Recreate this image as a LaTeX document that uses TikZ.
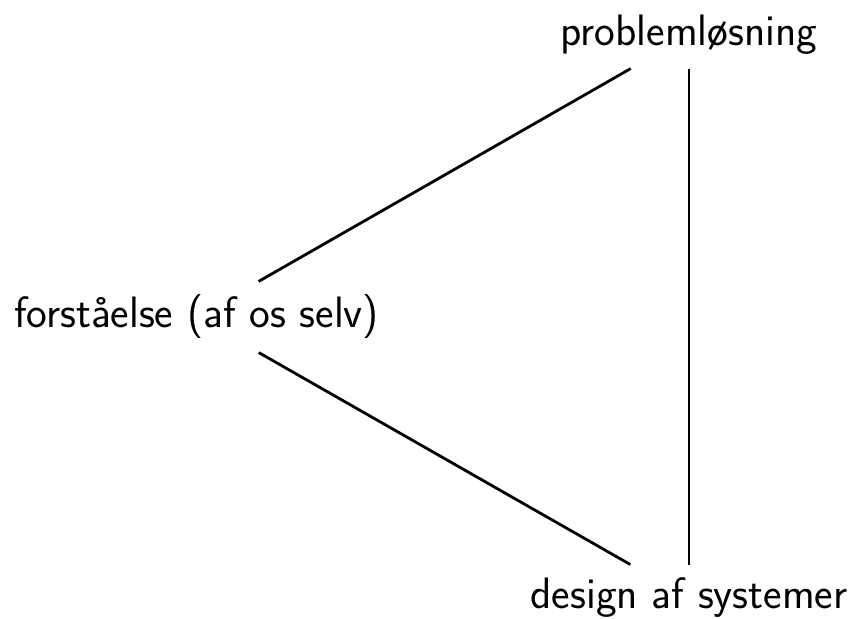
\documentclass[tikz,border=0pt]{standalone}
\usepackage{fontspec}
\begin{document}
\begin{tikzpicture}[x=0.5pt,y=-0.5pt,
  lbl/.style={anchor=base, inner xsep=2pt, inner ysep=6.6pt, font=\sffamily\fontsize{22}{26}\selectfont},
  conn/.style={line width=1.4pt}]
\useasboundingbox (0,0) rectangle (851,619);
\node[lbl] (p) at (689,46) {problemløsning};
\node[lbl] (f) at (196.5,328) {forståelse (af os selv)};
\node[lbl] (d) at (689,609) {design af systemer};
\draw[conn] (f) -- (p);
\draw[conn] (f) -- (d);
\draw[conn] (p) -- (d);
\end{tikzpicture}
\end{document}
